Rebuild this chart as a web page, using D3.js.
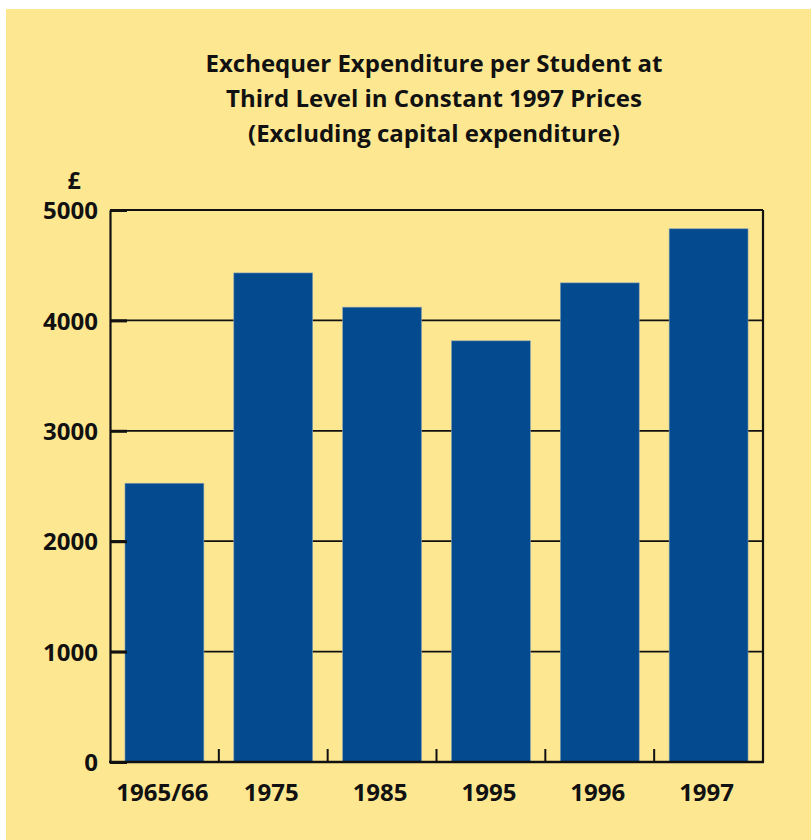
<!DOCTYPE html>
<html><head><meta charset="utf-8">
<script src="https://cdn.jsdelivr.net/npm/d3@7"></script>
<style>body{margin:0;background:#fff}svg{display:block}</style>
</head><body><svg id="c" width="811" height="840"></svg>
<script>
const categories = ["1965/66","1975","1985","1995","1996","1997"];
const values = [2525, 4430, 4120, 3815, 4340, 4830];
const yTicks = [0, 1000, 2000, 3000, 4000, 5000];
const titleLines = ["Exchequer Expenditure per Student at", "Third Level in Constant 1997 Prices", "(Excluding capital expenditure)"];
const unitLabel = "£";

const FONT = "'Open Sans', 'DejaVu Sans', sans-serif";
const svg = d3.select("#c");
svg.append("rect").attr("x", 6).attr("y", 9).attr("width", 805).attr("height", 831).attr("fill", "#fde891");

const m = {l: 110, r: 763, t: 210, b: 762};
const x = d3.scaleBand().domain(categories).range([m.l, m.r]).paddingInner(0.275).paddingOuter(0.1375);
const y = d3.scaleLinear().domain([0, 5000]).range([m.b, m.t]);

// title
const title = svg.append("text").attr("text-anchor", "middle").attr("font-family", FONT)
  .attr("font-weight", "bold").attr("font-size", 24).attr("fill", "#111");
titleLines.forEach((t, i) => {
  title.append("tspan").attr("x", 434).attr("y", 72 + i * 35).text(t);
});
svg.append("text").attr("x", 74).attr("y", 189).attr("text-anchor", "middle")
  .attr("font-family", FONT).attr("font-weight", "bold").attr("font-size", 23).attr("fill", "#111").text(unitLabel);

// gridlines
svg.append("g").selectAll("line").data(yTicks.filter(d => d > 0)).join("line")
  .attr("x1", m.l).attr("x2", m.r).attr("y1", d => y(d)).attr("y2", d => y(d))
  .attr("stroke", "#111").attr("stroke-width", 1.8);

// bars
svg.append("g").selectAll("rect").data(values).join("rect")
  .attr("x", (d, i) => x(categories[i])).attr("width", x.bandwidth())
  .attr("y", d => y(d)).attr("height", d => y(0) - y(d))
  .attr("fill", "#044a8f").attr("stroke", "#8aa2b4").attr("stroke-width", 0.6);

// y axis
const yAxis = svg.append("g").attr("transform", `translate(${m.l},0)`)
  .call(d3.axisLeft(y).tickValues(yTicks).tickSizeInner(-17).tickSizeOuter(0).tickPadding(12).tickFormat(d3.format("d")));
yAxis.select(".domain").attr("stroke", "#111").attr("stroke-width", 2.2);
yAxis.selectAll(".tick line").attr("stroke", "#111").attr("stroke-width", 3);
yAxis.selectAll(".tick text").attr("font-family", FONT).attr("font-weight", "bold").attr("font-size", 24).attr("fill", "#111").attr("dy", "0.36em");

// right axis
svg.append("line").attr("x1", m.r).attr("x2", m.r).attr("y1", y(5000)).attr("y2", y(0)).attr("stroke", "#111").attr("stroke-width", 2.2);

// x axis
const bounds = categories.slice(1).map(c => x(c) - (x.step() - x.bandwidth()) / 2);
svg.append("g").selectAll("line").data(bounds).join("line")
  .attr("x1", d => d).attr("x2", d => d).attr("y1", y(0)).attr("y2", y(0) - 13)
  .attr("stroke", "#111").attr("stroke-width", 2);
svg.append("line").attr("x1", m.l - 1).attr("x2", m.r + 1).attr("y1", y(0)).attr("y2", y(0)).attr("stroke", "#111").attr("stroke-width", 2.6);
svg.append("g").selectAll("text").data(categories).join("text")
  .attr("x", d => x(d) + x.bandwidth() / 2 - 2).attr("y", 801).attr("text-anchor", "middle")
  .attr("font-family", FONT).attr("font-weight", "bold").attr("font-size", 24).attr("fill", "#111").text(d => d);
</script></body></html>
